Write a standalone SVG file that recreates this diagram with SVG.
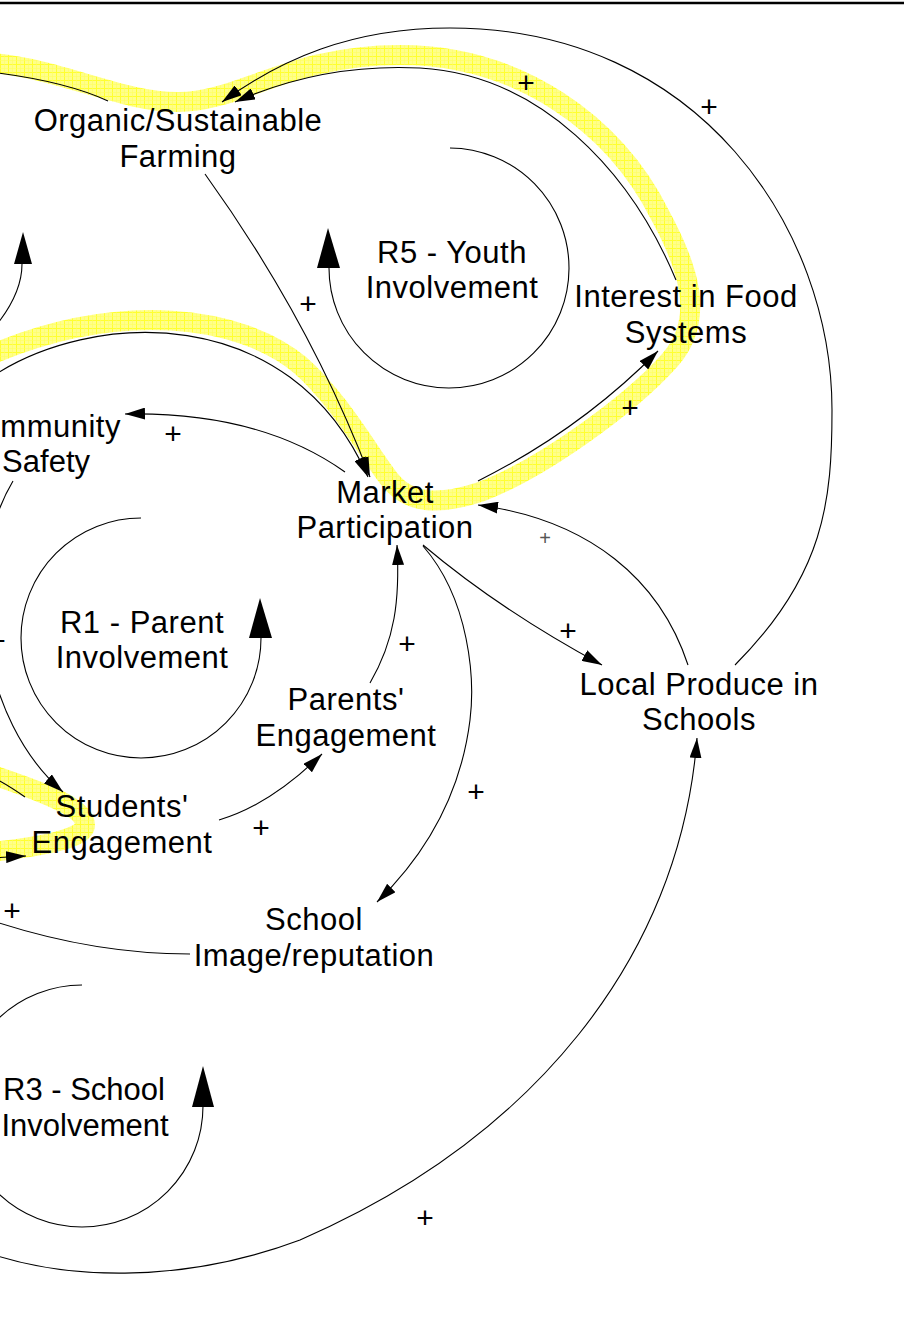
<svg xmlns="http://www.w3.org/2000/svg" width="904" height="1329" viewBox="0 0 904 1329">
<defs>
<pattern id="hl" width="8" height="8" patternUnits="userSpaceOnUse">
<rect width="8" height="8" fill="#ffff8a"/>
<path d="M0 0.5H8M0.5 0V8" stroke="#ffff30" stroke-width="1"/>
<path d="M0 4.5H8M4.5 0V8" stroke="#ffff60" stroke-width="0.6"/>
</pattern>
<marker id="a" viewBox="0 0 20 12" markerWidth="20" markerHeight="12" refX="20" refY="6" orient="auto" markerUnits="userSpaceOnUse">
<path d="M0,0 L20,6 L0,12 Z" fill="#000"/>
</marker>
<style>
.t{font-family:"Liberation Sans",Arial,sans-serif;font-size:31px;letter-spacing:0.5px;fill:#000;text-anchor:middle}
.p{font-family:"Liberation Sans",Arial,sans-serif;font-size:30px;fill:#000;text-anchor:middle}
.c{fill:none;stroke:#000;stroke-width:1.1}
.band{fill:none;stroke:url(#hl);stroke-width:20;stroke-linecap:round;stroke-linejoin:round}
</style>
</defs>
<rect width="904" height="1329" fill="#fff"/>
<line x1="0" y1="3" x2="904" y2="3" stroke="#000" stroke-width="2.5"/>

<g id="highlight">
<path class="band" d="M -10 63 C 60 68, 120 102, 178 102 C 240 102, 290 55, 400 55 C 520 55, 615 125, 660 215 C 690 270, 705 320, 670 360 C 630 405, 540 470, 480 492 C 440 505, 410 505, 390 480 C 370 455, 340 400, 300 365 C 240 315, 120 300, -10 355"/>
<path class="band" d="M -10 774 C 30 788, 85 805, 85 825 C 85 840, 30 848, -10 852"/>
</g>

<g id="connectors">
<path class="c" marker-end="url(#a)" d="M 735 665 C 825 575, 832 500, 832 410 C 832 230, 700 28, 450 28 C 350 28, 280 60, 222 102"/>
<path class="c" marker-end="url(#a)" d="M 676 280 C 630 170, 540 75, 420 68 C 340 64, 280 82, 235 102"/>
<path class="c" marker-end="url(#a)" d="M 205 174 Q 310 320 370 477"/>
<path class="c" marker-end="url(#a)" d="M -10 378 C 90 310, 290 300, 368 477"/>
<path class="c" marker-end="url(#a)" d="M 478 481 Q 580 430 658 351"/>
<path class="c" marker-end="url(#a)" d="M 345 472 C 300 440, 230 412, 125 414"/>
<path class="c" marker-end="url(#a)" d="M 13 481 C -40 570, -20 720, 63 792"/>
<path class="c" marker-end="url(#a)" d="M 219 820 Q 270 805 322 754"/>
<path class="c" marker-end="url(#a)" d="M 370 683 C 395 640, 400 600, 397 545"/>
<path class="c" marker-end="url(#a)" d="M 423 545 Q 500 610 602 665"/>
<path class="c" marker-end="url(#a)" d="M 688 665 C 660 580, 590 520, 478 505"/>
<path class="c" marker-end="url(#a)" d="M 423 546 C 470 600, 475 680, 470 720 C 460 800, 420 860, 377 902"/>
<path class="c" marker-end="url(#a)" d="M -20 1250 C 60 1280, 180 1285, 300 1240 C 530 1140, 680 960, 697 738"/>
<path class="c" marker-end="url(#a)" d="M -10 858 L 26 856"/>
<path class="c" d="M 25 797 C 15 790, 5 783, -10 776"/>
<path class="c" d="M 190 954 C 120 954, 50 940, -10 920"/>
<path class="c" d="M 108 101 C 80 88, 40 78, -10 72"/>
<path class="c" d="M 22 264 C 22 285, 12 305, -2 323"/>
<path d="M 23 232 L 14 264 L 32 264 Z" fill="#000"/>
</g>

<g id="polarity">
<text class="p" x="526" y="93">+</text>
<text class="p" x="709" y="117">+</text>
<text class="p" x="308" y="314">+</text>
<text class="p" x="173" y="444">+</text>
<text class="p" x="630" y="418">+</text>
<text class="p" x="407" y="654">+</text>
<text class="p" x="568" y="641">+</text>
<text x="545" y="545" style="font-family:'Liberation Sans',Arial,sans-serif;font-size:20px;fill:#555;text-anchor:middle">+</text>
<text class="p" x="476" y="802">+</text>
<text class="p" x="261" y="838">+</text>
<text class="p" x="12" y="921">+</text>
<text class="p" x="425" y="1228">+</text>
<text class="p" x="-3" y="651">+</text>
</g>

<g id="loop-R5">
<path class="c" d="M 450 148 A 120 120 0 1 1 329 268"/>
<path d="M 328 228 L 317 268 L 340 268 Z" fill="#000"/>
<text class="t" x="452" y="263">R5 - Youth</text>
<text class="t" x="452" y="298">Involvement</text>
</g>
<g id="loop-R1">
<path class="c" d="M 141 518 A 120 120 0 1 0 261 638"/>
<path d="M 260 598 L 249 638 L 272 638 Z" fill="#000"/>
<text class="t" x="142" y="633">R1 - Parent</text>
<text class="t" x="142" y="668">Involvement</text>
</g>
<g id="loop-R3">
<path class="c" d="M 82 985 A 121 121 0 1 0 203 1106"/>
<path d="M 203 1066 L 192 1107 L 214 1107 Z" fill="#000"/>
<text class="t" x="84" y="1100" style="letter-spacing:0">R3 - School</text>
<text class="t" x="85" y="1136" style="letter-spacing:0">Involvement</text>
</g>

<g id="organic">
<text class="t" x="178" y="131">Organic/Sustainable</text>
<text class="t" x="178" y="167">Farming</text>
</g>
<g id="interest">
<text class="t" x="686" y="307">Interest in Food</text>
<text class="t" x="686" y="343">Systems</text>
</g>
<g id="community-safety">
<text class="t" x="121" y="437" style="text-anchor:end">mmunity</text>
<text class="t" x="90" y="472" style="text-anchor:end;letter-spacing:0">Safety</text>
</g>
<g id="market">
<text class="t" x="385" y="503">Market</text>
<text class="t" x="385" y="538">Participation</text>
</g>
<g id="parents">
<text class="t" x="346" y="710">Parents'</text>
<text class="t" x="346" y="746">Engagement</text>
</g>
<g id="students">
<text class="t" x="122" y="817">Students'</text>
<text class="t" x="122" y="853">Engagement</text>
</g>
<g id="school-image">
<text class="t" x="314" y="930">School</text>
<text class="t" x="314" y="966">Image/reputation</text>
</g>
<g id="local-produce">
<text class="t" x="699" y="695">Local Produce in</text>
<text class="t" x="699" y="730">Schools</text>
</g>
</svg>
